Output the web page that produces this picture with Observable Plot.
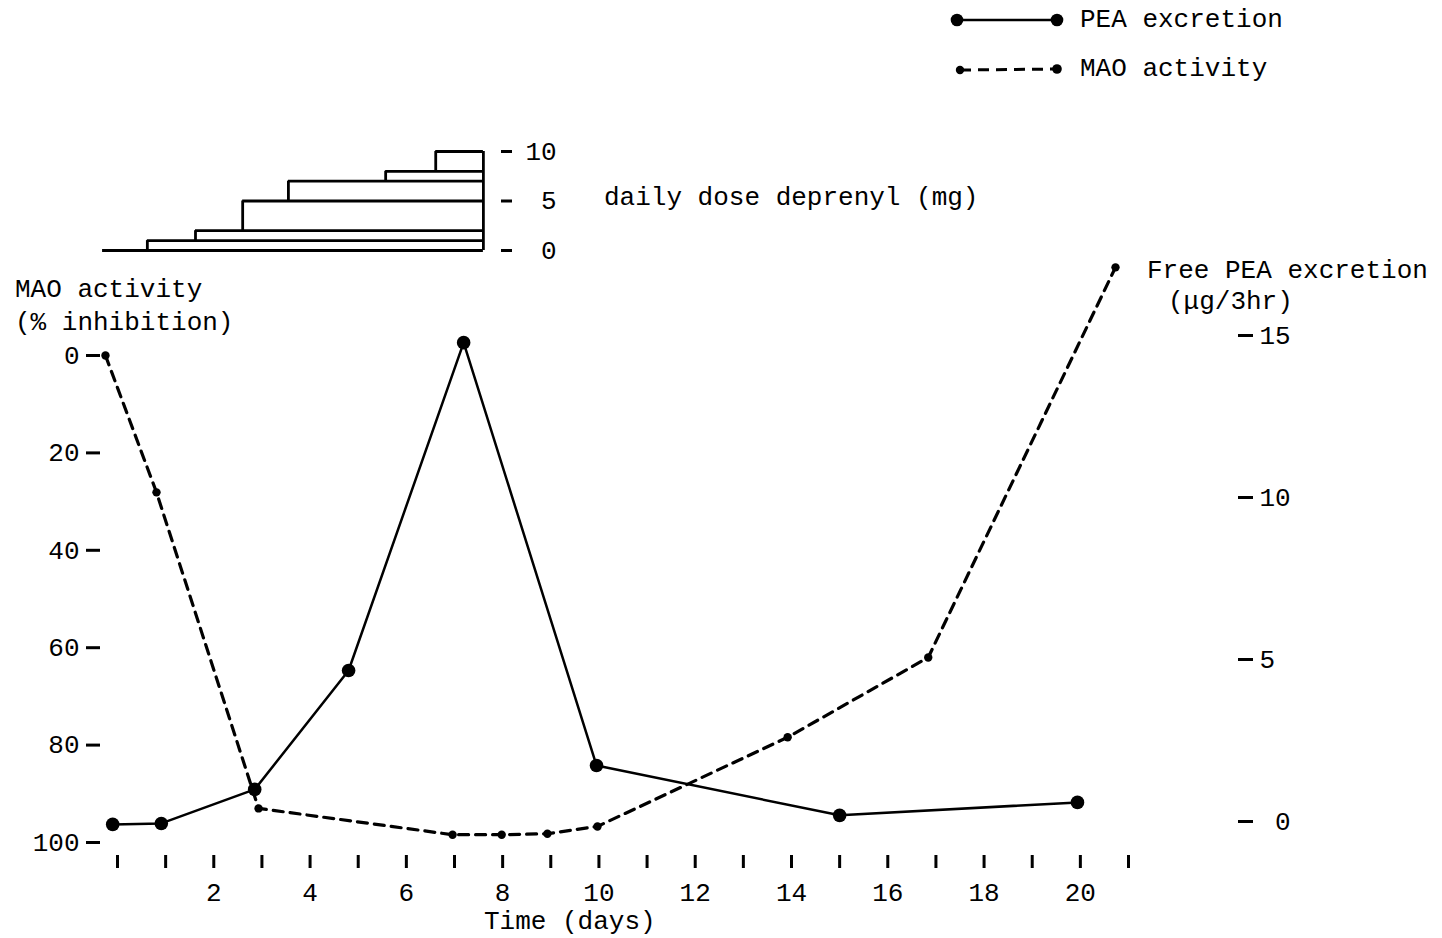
<!DOCTYPE html>
<html>
<head>
<meta charset="utf-8">
<script src="https://cdn.jsdelivr.net/npm/d3@7"></script>
<script src="https://cdn.jsdelivr.net/npm/@observablehq/plot@0.6"></script>
<style>
  html, body { margin: 0; padding: 0; background: #fff; }
  #wrap { position: relative; width: 1442px; height: 938px; overflow: hidden;
          font-family: "Liberation Mono", monospace; font-size: 26px; color: #000; }
  #wrap svg { position: absolute; left: 0; top: 0; }
  .t { position: absolute; white-space: pre; line-height: 1; transform: translateY(-50%); }
</style>
</head>
<body>
<div id="wrap"></div>
<script>
// ---------- data ----------
const peaDay   = [-0.10, 0.91, 2.85, 4.80, 7.19, 9.95, 15.0, 19.94];
const peaValue = [-0.09, -0.06, 0.99, 4.66, 14.78, 1.73, 0.19, 0.59];   // µg/3hr

const maoDay        = [-0.25, 0.81, 2.93, 6.96, 7.98, 8.93, 9.97, 13.92, 16.84, 20.73];
const maoInhibition = [0, 28.1, 93.0, 98.4, 98.4, 98.2, 96.7, 78.4, 62.0, -18.1]; // %

const doseStart = [0.62, 1.62, 2.60, 3.55, 5.57, 6.61];  // day the dose step begins
const doseMg    = [1, 2, 5, 7, 8, 10];                  // daily dose deprenyl (mg)
const doseEnd = 7.60;
const doseBaselineStart = -0.31;

const dayTicks  = d3.range(0, 22);
const dayLabels = [2, 4, 6, 8, 10, 12, 14, 16, 18, 20];
const maoTicks  = [0, 20, 40, 60, 80, 100];
const peaTicks  = [0, 5, 10, 15];
const doseTicks = [0, 5, 10];

// ---------- tables ----------
const pea = peaDay.map((d, i) => ({day: d, value: peaValue[i]}));
const mao = maoDay.map((d, i) => ({day: d, value: maoInhibition[i]}));
const blocks = doseStart.map((s, i) => ({start: s, mg: doseMg[i], prev: i ? doseMg[i - 1] : 0}));

const W = 1442, H = 938;
const FONT = "Liberation Mono";
const common = {
  width: W, height: H, marginLeft: 117, marginRight: 314,
  style: {fontFamily: FONT, fontSize: "26px", background: "transparent", overflow: "visible", color: "#000"}
};
const wrap = document.getElementById("wrap");

// MAO layer (left axis, time axis)
const plotMAO = Plot.plot({
  ...common, marginTop: 355, marginBottom: 96,
  x: {domain: [0, 21]},
  y: {domain: [0, 100], reverse: true},
  marks: [
    Plot.axisY(maoTicks, {anchor: "left", tickSize: 14, tickPadding: 7, dx: -17, strokeWidth: 3, label: null}),
    Plot.axisX(dayTicks, {anchor: "bottom", tickSize: 13, dy: 13, strokeWidth: 3, tickFormat: () => "", label: null}),
    Plot.axisX(dayLabels, {anchor: "bottom", tickSize: 0, tickPadding: 40, label: null}),
    Plot.line(mao, {x: "day", y: "value", stroke: "black", strokeWidth: 3.2, strokeDasharray: "10,7"}),
    Plot.dot(mao, {x: "day", y: "value", r: 4.2, fill: "black"})
  ]
});

// PEA layer (right axis)
const plotPEA = Plot.plot({
  ...common, marginTop: 335, marginBottom: 117,
  x: {domain: [0, 21], axis: null},
  y: {domain: [0, 15]},
  marks: [
    Plot.axisY(peaTicks, {anchor: "right", tickSize: 15, tickPadding: 7, dx: 109, strokeWidth: 3, label: null,
      tickFormat: d => d === 0 ? "\u00a00" : String(d)}),
    Plot.line(pea, {x: "day", y: "value", stroke: "black", strokeWidth: 2.5}),
    Plot.dot(pea, {x: "day", y: "value", r: 6.8, fill: "black"})
  ]
});

// Dose staircase layer
const plotDose = Plot.plot({
  ...common, marginTop: 151, marginBottom: 688,
  x: {domain: [0, 21], axis: null},
  y: {domain: [0, 10]},
  marks: [
    Plot.axisY(doseTicks, {anchor: "right", tickSize: 11, tickPadding: 14, dx: -628, strokeWidth: 3, label: null,
      tickFormat: d => d < 10 ? "\u00a0" + d : String(d)}),
    Plot.ruleY([0], {x1: () => doseBaselineStart, x2: () => doseEnd, stroke: "black", strokeWidth: 2.8}),
    Plot.ruleY(blocks, {y: "mg", x1: "start", x2: () => doseEnd, stroke: "black", strokeWidth: 2.8}),
    Plot.ruleX(blocks, {x: "start", y1: "prev", y2: "mg", stroke: "black", strokeWidth: 2.8}),
    Plot.ruleX([doseEnd], {y1: 0, y2: d3.max(doseMg), stroke: "black", strokeWidth: 2.8})
  ]
});

wrap.append(plotDose, plotMAO, plotPEA);

// Legend swatches
const leg = d3.create("svg").attr("width", W).attr("height", 110).attr("style", "position:absolute;left:0;top:0;overflow:visible");
leg.append("line").attr("x1", 957).attr("y1", 20).attr("x2", 1057).attr("y2", 20).attr("stroke", "black").attr("stroke-width", 2.5);
leg.append("circle").attr("cx", 957).attr("cy", 20).attr("r", 6.3);
leg.append("circle").attr("cx", 1057).attr("cy", 20).attr("r", 6.3);
leg.append("line").attr("x1", 960).attr("y1", 70).attr("x2", 1057).attr("y2", 69).attr("stroke", "black").attr("stroke-width", 3).attr("stroke-dasharray", "11,7");
leg.append("circle").attr("cx", 960).attr("cy", 70).attr("r", 4.2);
leg.append("circle").attr("cx", 1057).attr("cy", 69).attr("r", 4.8);
wrap.append(leg.node());

// Texts
const texts = [
  ["PEA excretion", 1080, 20],
  ["MAO activity", 1080, 69],
  ["daily dose deprenyl (mg)", 604, 198],
  ["MAO activity", 15, 290],
  ["(% inhibition)", 15, 323],
  ["Free PEA excretion", 1147, 271],
  ["(μg/3hr)", 1168, 302],
  ["Time (days)", 484, 922]
];
for (const [s, x, y] of texts) {
  const d = document.createElement("div");
  d.className = "t";
  d.textContent = s;
  d.style.left = x + "px";
  d.style.top = y + "px";
  wrap.append(d);
}
</script>
</body>
</html>
